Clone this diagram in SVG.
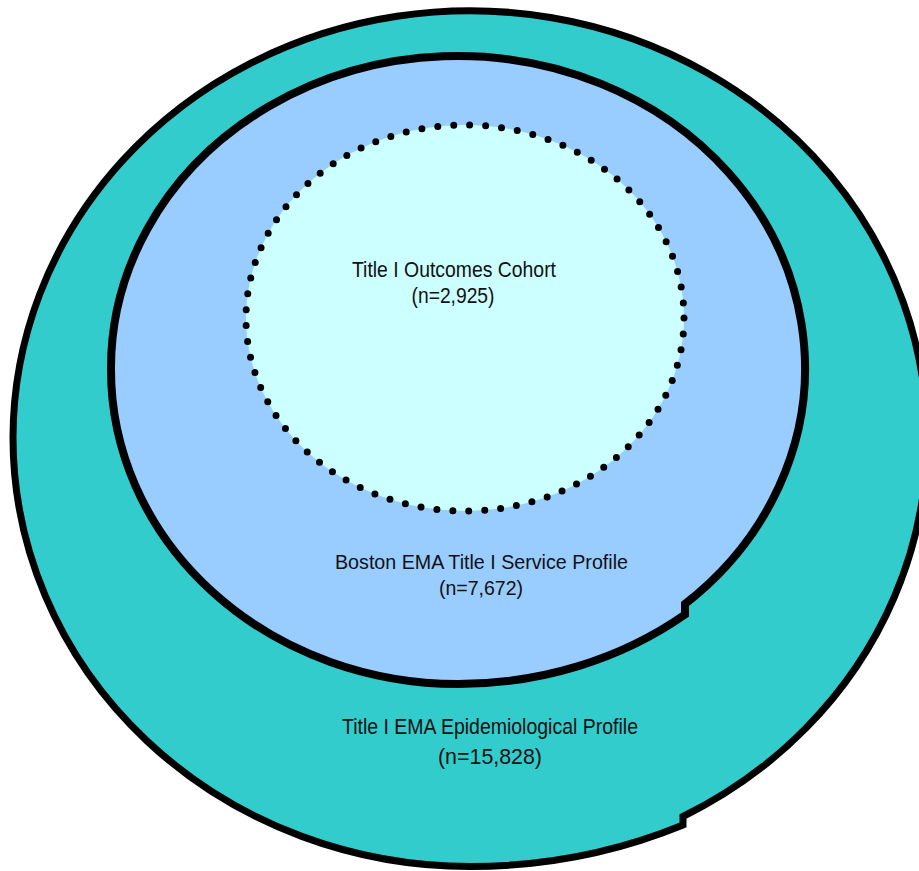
<svg xmlns="http://www.w3.org/2000/svg" width="919" height="871" viewBox="0 0 919 871">
<style>
.lbl{font-family:"Liberation Sans",Arial,sans-serif;fill:#111;text-anchor:middle}
.ring{stroke:#000;stroke-linejoin:miter}
</style>
<rect width="919" height="871" fill="#fff"/>
<g id="epidemiological-profile">
<path class="ring" d="M683,816.5 A457,427.5 0 1 0 13,437.5 A457,429 0 0 0 470,866.5 A496.5,429 0 0 0 683,825 Z" fill="#33CCCC" stroke-width="7"/>
<text class="lbl" x="490" y="734" font-size="22.5" textLength="296" lengthAdjust="spacingAndGlyphs">Title I EMA Epidemiological Profile</text>
<text class="lbl" x="490" y="764" font-size="22.5" textLength="104" lengthAdjust="spacingAndGlyphs">(n=15,828)</text>
</g>
<g id="service-profile">
<path class="ring" d="M685,604 A347,312 0 1 0 111,370 A347,314 0 0 0 458,684 A361.8,314 0 0 0 685,614.5 Z" fill="#99CCFF" stroke-width="8"/>
<text class="lbl" x="481.5" y="569" font-size="20.5" textLength="293" lengthAdjust="spacingAndGlyphs">Boston EMA Title I Service Profile</text>
<text class="lbl" x="481" y="595" font-size="20.5" textLength="84" lengthAdjust="spacingAndGlyphs">(n=7,672)</text>
</g>
<g id="outcomes-cohort">
<ellipse cx="465" cy="318" rx="219" ry="193" fill="#CCFFFF" stroke="#000" stroke-width="7" stroke-dasharray="0 16" stroke-linecap="round"/>
<text class="lbl" x="454" y="277" font-size="22" textLength="204" lengthAdjust="spacingAndGlyphs">Title I Outcomes Cohort</text>
<text class="lbl" x="453" y="303" font-size="22" textLength="83" lengthAdjust="spacingAndGlyphs">(n=2,925)</text>
</g>
</svg>
